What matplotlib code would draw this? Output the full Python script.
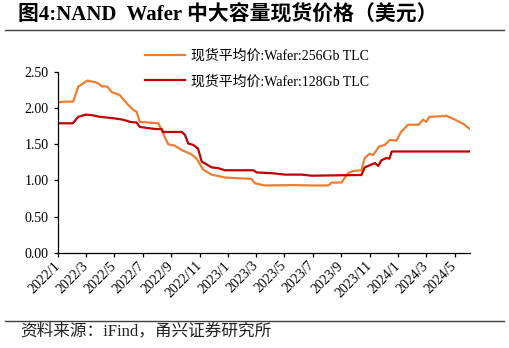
import matplotlib
matplotlib.use('Agg')
import matplotlib.pyplot as plt
import matplotlib.dates as mdates
from matplotlib.lines import Line2D
import pandas as pd

plt.rcParams['font.family'] = ['Liberation Serif', 'Noto Sans CJK SC']
plt.rcParams['axes.unicode_minus'] = False

# 现货平均价:Wafer:256Gb TLC
dates_256 = ['2022-01-01', '2022-01-17', '2022-02-02', '2022-02-13', '2022-02-16', '2022-03-04',
             '2022-03-21', '2022-03-31', '2022-04-04', '2022-04-16', '2022-04-26', '2022-05-13',
             '2022-05-26', '2022-06-10', '2022-06-18', '2022-06-25', '2022-08-04', '2022-08-25',
             '2022-09-08', '2022-09-23', '2022-10-14', '2022-10-25', '2022-11-08', '2022-11-26',
             '2022-12-10', '2022-12-25', '2023-02-20', '2023-02-27', '2023-03-20', '2023-05-23',
             '2023-06-29', '2023-08-04', '2023-08-11', '2023-09-01', '2023-09-15', '2023-09-26',
             '2023-10-14', '2023-10-21', '2023-11-01', '2023-11-08', '2023-11-21', '2023-12-03',
             '2023-12-14', '2023-12-28', '2024-01-07', '2024-01-22', '2024-02-14', '2024-02-23',
             '2024-03-01', '2024-03-08', '2024-04-10', '2024-04-13', '2024-05-02', '2024-05-20',
             '2024-06-03']
vals_256 = [2.08, 2.09, 2.09, 2.30, 2.31, 2.38,
            2.36, 2.33, 2.30, 2.30, 2.22, 2.18,
            2.08, 1.98, 1.95, 1.81, 1.79, 1.50,
            1.48, 1.42, 1.36, 1.30, 1.15, 1.08,
            1.06, 1.04, 1.02, 0.96, 0.93, 0.935,
            0.93, 0.93, 0.97, 0.97, 1.10, 1.13,
            1.14, 1.31, 1.37, 1.35, 1.47, 1.49,
            1.56, 1.55, 1.67, 1.77, 1.77, 1.84,
            1.81, 1.88, 1.89, 1.895, 1.84, 1.78,
            1.71]

# 现货平均价:Wafer:128Gb TLC
dates_128 = ['2022-01-01', '2022-02-01', '2022-02-13', '2022-03-01', '2022-03-16', '2022-03-31',
             '2022-04-29', '2022-05-20', '2022-06-04', '2022-06-18', '2022-06-25', '2022-07-17',
             '2022-07-31', '2022-08-11', '2022-08-14', '2022-09-23', '2022-09-30', '2022-10-07',
             '2022-10-18', '2022-10-28', '2022-11-05', '2022-11-16', '2022-11-26', '2022-12-10',
             '2022-12-25', '2023-02-24', '2023-03-03', '2023-04-04', '2023-05-03', '2023-06-08',
             '2023-06-29', '2023-10-14', '2023-10-21', '2023-11-01', '2023-11-12', '2023-11-19',
             '2023-11-26', '2023-12-07', '2023-12-13', '2023-12-18', '2024-06-03']
vals_128 = [1.79, 1.79, 1.88, 1.91, 1.90, 1.88,
            1.86, 1.84, 1.81, 1.80, 1.74, 1.72,
            1.71, 1.71, 1.67, 1.67, 1.63, 1.51,
            1.49, 1.44, 1.26, 1.22, 1.18, 1.17,
            1.14, 1.14, 1.11, 1.10, 1.08, 1.08,
            1.065, 1.075, 1.18, 1.21, 1.24, 1.20,
            1.28, 1.31, 1.30, 1.40, 1.40]

label_256 = '现货平均价:Wafer:256Gb TLC'
label_128 = '现货平均价:Wafer:128Gb TLC'
yticks = [0.0, 0.5, 1.0, 1.5, 2.0, 2.5]

fig = plt.figure(figsize=(5.09, 3.48), dpi=100)
ax = fig.add_axes([0.1145, 0.2739, 0.8088, 0.5193])

ax.plot(pd.to_datetime(dates_256), vals_256, color='#ED7D31', lw=1.6, label=label_256)
ax.plot(pd.to_datetime(dates_128), vals_128, color='#C00000', lw=1.6, label=label_128)

ax.set_ylim(0, 2.5)
ax.set_yticks(yticks)
ax.set_yticklabels(['%.2f' % v for v in yticks], fontsize=10)
ax.set_xlim(pd.Timestamp('2022-01-01'), pd.Timestamp('2024-06-03'))
ax.xaxis.set_major_locator(mdates.MonthLocator(bymonth=[1, 3, 5, 7, 9, 11]))
ax.xaxis.set_major_formatter(plt.FuncFormatter(
    lambda x, pos: '%d/%d' % (mdates.num2date(x).year, mdates.num2date(x).month)))
for lbl in ax.get_xticklabels():
    lbl.set_rotation(45)
    lbl.set_ha('right')
    lbl.set_va('center')
    lbl.set_rotation_mode('anchor')
    lbl.set_fontsize(10)

for s in ['top', 'right']:
    ax.spines[s].set_visible(False)
for s in ['left', 'bottom']:
    ax.spines[s].set_linewidth(0.9)
    ax.spines[s].set_color('black')
ax.tick_params(axis='both', direction='out', length=3, width=0.9, colors='black')
ax.tick_params(axis='x', pad=5)
ax.tick_params(axis='y', pad=4)

ax.legend(loc='center left', bbox_to_anchor=(0.285, 0.802), bbox_transform=fig.transFigure,
          frameon=False, fontsize=10, handlelength=2.9, handletextpad=0.4,
          labelspacing=0.85, borderpad=0, borderaxespad=0)

# title, separators and source
fig.text(0.036, 0.955, '图4:NAND  Wafer 中大容量现货价格（美元）', fontsize=15,
         fontweight='bold', ha='left', va='center')
fig.add_artist(Line2D([0.01, 0.99], [1 - 30 / 348, 1 - 30 / 348], color='#404040', lw=1.0))
fig.add_artist(Line2D([0.01, 0.99], [1 - 321 / 348, 1 - 321 / 348], color='#404040', lw=1.0))
fig.text(0.039, 1 - 331 / 348, '资料来源：iFind，甬兴证券研究所', fontsize=12,
         ha='left', va='center', color='#222222')

fig.savefig('out.png', dpi=100)
